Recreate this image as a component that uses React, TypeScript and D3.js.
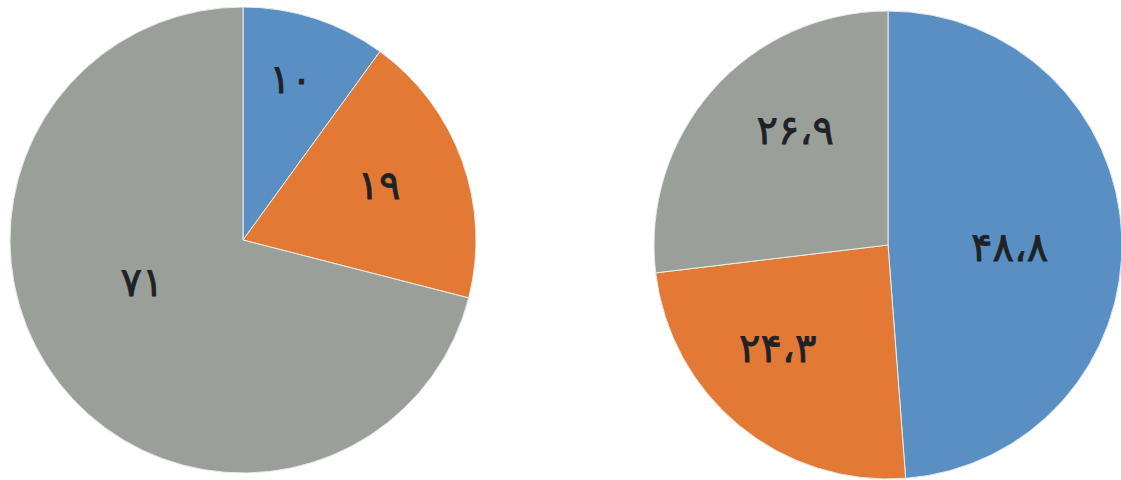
import React from "react";
import * as d3 from "d3";

const leftValues = [10, 19, 71];
const leftLabels = ["۱۰", "۱۹", "۷۱"];
const rightValues = [48.8, 24.3, 26.9];
const rightLabels = ["۴۸،۸", "۲۴،۳", "۲۶،۹"];
const colors = ["#5a8fc4", "#e27935", "#9b9f9a"];

// label placement style: [radius fraction, angle nudge in degrees] per slice
const leftLabelStyle: [number, number][] = [[0.72, -1.5], [0.63, -2.4], [0.47, 15]];
const rightLabelStyle: [number, number][] = [[0.52, 3], [0.645, 7.5], [0.63, 9.4]];

const W = 1121;
const H = 480;

function Pie({ values, labels, cx, cy, r, labelStyle }: { values: number[]; labels: string[]; cx: number; cy: number; r: number; labelStyle: [number, number][] }) {
  const pie = d3.pie<number>().value((d) => d).sort(null).startAngle(0).endAngle(2 * Math.PI);
  const arcs = pie(values);
  const arc = d3.arc<d3.PieArcDatum<number>>().innerRadius(0).outerRadius(r);
  return (
    <g transform={`translate(${cx},${cy})`}>
      {arcs.map((a, i) => (
        <path key={i} d={arc(a) || ""} fill={colors[i]} stroke="#e8ecea" strokeWidth={1} />
      ))}
      {arcs.map((a, i) => {
        const [frac, nudge] = labelStyle[i];
        const ang = (a.startAngle + a.endAngle) / 2 + (nudge * Math.PI) / 180;
        const x = Math.sin(ang) * r * frac;
        const y = -Math.cos(ang) * r * frac;
        return (
          <text key={"t" + i} x={x} y={y} textAnchor="middle" dominantBaseline="central" fontFamily="DejaVu Sans" fontWeight="normal" fontSize={40} fill="#1e2226" stroke="#1e2226" strokeWidth={0.8}>
            {labels[i]}
          </text>
        );
      })}
    </g>
  );
}

export default function App() {
  return (
    <svg width={W} height={H} style={{ position: "absolute", left: 0, top: 0, background: "#ffffff" }}>
      <Pie values={leftValues} labels={leftLabels} cx={243} cy={240} r={233} labelStyle={leftLabelStyle} />
      <Pie values={rightValues} labels={rightLabels} cx={888} cy={245} r={234} labelStyle={rightLabelStyle} />
    </svg>
  );
}
